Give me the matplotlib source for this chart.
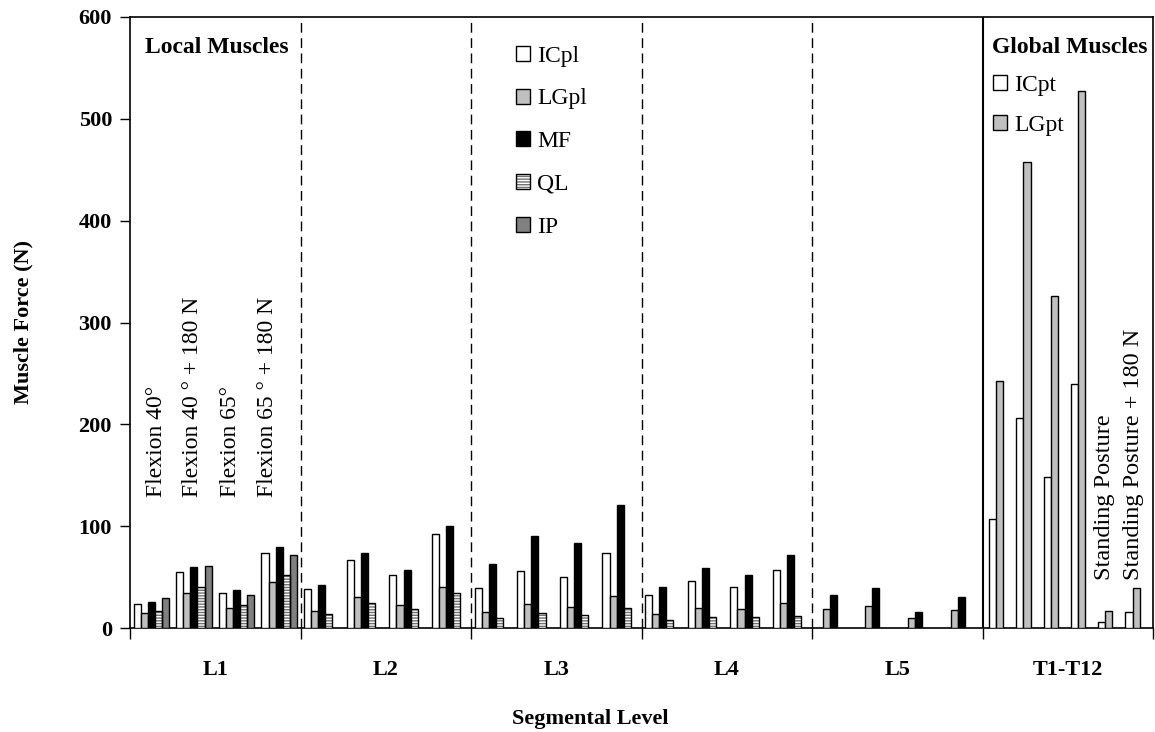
import numpy as np
import matplotlib
matplotlib.use("Agg")
import matplotlib.pyplot as plt
from matplotlib.patches import Patch
from matplotlib.legend_handler import HandlerTuple

plt.rcParams['font.family'] = ['Liberation Serif', 'DejaVu Serif']

# data
levels = ["L1", "L2", "L3", "L4", "L5", "T1-T12"]
local_names = ["ICpl", "LGpl", "MF", "QL", "IP"]
flexion_labels = ["Flexion 40°", "Flexion 40 ° + 180 N", "Flexion 65°", "Flexion 65 ° + 180 N"]
standing_labels = ["Standing Posture", "Standing Posture + 180 N"]

# local muscles, rows = L1..L5, columns = 4 flexion conditions
icpl = [[24, 55, 34, 74], [38, 67, 52, 92], [39, 56, 50, 74], [32, 46, 40, 57], [0, 0, 0, 0]]
lgpl = [[15, 34, 20, 45], [17, 30, 23, 40], [16, 24, 21, 31], [14, 20, 19, 25], [19, 22, 10, 18]]
mf = [[26, 60, 37, 80], [42, 74, 57, 100], [63, 90, 83, 121], [40, 59, 52, 72], [32, 39, 16, 30]]
ql = [[17, 40, 23, 52], [14, 25, 19, 34], [10, 15, 13, 20], [8, 11, 11, 12], [0, 0, 0, 0]]
ip = [[29, 61, 32, 72], [0, 0, 0, 0], [0, 0, 0, 0], [0, 0, 0, 0], [0, 0, 0, 0]]

# global muscles at T1-T12: 4 flexion conditions + 2 standing
icpt = [107, 206, 148, 240, 6, 16]
lgpt = [243, 458, 326, 527, 17, 39]

colors = {"ICpl": "white", "LGpl": "#c0c0c0", "MF": "black", "QL": "white", "IP": "#808080"}

fig = plt.figure(figsize=(11.55, 7.32), dpi=100)
ax = fig.add_axes([130 / 1155, 1 - 628 / 732, 1023 / 1155, 611 / 732])

bw = 0.25 / 6  # bar width, one category = 5 bars + gap
series = [icpl, lgpl, mf, ql, ip]
for s, (name, vals) in enumerate(zip(local_names, series)):
    vals = np.array(vals, dtype=float)
    xs, hs = [], []
    for j in range(vals.shape[0]):
        for i in range(4):
            if vals[j, i] > 0:
                xs.append(j + (i + 0.5) * 0.25 + (s - 2) * bw)
                hs.append(vals[j, i])
    if name == "QL":
        ax.bar(xs, hs, width=bw, color="white", edgecolor="#707070", hatch="------", linewidth=0, zorder=3)
        ax.bar(xs, hs, width=bw, fill=False, edgecolor="black", linewidth=1.0, zorder=4)
    else:
        ax.bar(xs, hs, width=bw, color=colors[name], edgecolor="black", linewidth=1.0, zorder=3)

gw = 0.16
gx = np.array([5 + (k + 0.5) * gw for k in range(len(icpt))])
ax.bar(gx - bw / 2, icpt, width=bw, color="white", edgecolor="black", linewidth=1.0, zorder=3)
ax.bar(gx + bw / 2, lgpt, width=bw, color="#c0c0c0", edgecolor="black", linewidth=1.0, zorder=3)

# dividers
for k in range(1, 5):
    ax.axvline(k, color="black", linewidth=1.0, dashes=(7, 4), zorder=2)
ax.axvline(5, color="black", linewidth=1.5, zorder=2)

ax.set_xlim(0, 6)
ax.set_ylim(0, 600)
ax.set_yticks(np.arange(0, 601, 100))
ax.set_xticks(np.arange(0, 7))
ax.set_xticklabels([])
ax.set_xticks(np.arange(6) + 0.5, minor=True)
ax.set_xticklabels(levels, minor=True, fontsize=16, fontweight="bold")
ax.tick_params(axis="x", which="major", direction="out", length=8, width=1)
ax.tick_params(axis="x", which="minor", length=0, pad=23)
ax.tick_params(axis="y", direction="out", length=7, width=1, labelsize=16, pad=6)
for lab in ax.get_yticklabels():
    lab.set_fontweight("bold")
for sp in ax.spines.values():
    sp.set_linewidth(1.2)

ax.set_xlabel("Segmental Level", fontsize=16, fontweight="bold")
ax.xaxis.set_label_coords(0.45, -0.132)
ax.set_ylabel("Muscle Force (N)", fontsize=16, fontweight="bold")
ax.yaxis.set_label_coords(-0.094, 0.5)

# rotated condition labels
for xp, txt in zip([0.158, 0.364, 0.587, 0.809], flexion_labels):
    ax.text(xp, 129, txt, rotation=90, ha="center", va="bottom", fontsize=17)
for xp, txt in zip([5.718, 5.883], standing_labels):
    ax.text(xp, 47, txt, rotation=90, ha="center", va="bottom", fontsize=17.5)

ax.text(0.088, 565, "Local Muscles", fontsize=17, fontweight="bold", va="baseline")
ax.text(5.056, 565, "Global Muscles", fontsize=17, fontweight="bold", va="baseline")

ql_handle = (Patch(facecolor="white", edgecolor="#707070", hatch="------", linewidth=0),
             Patch(fill=False, edgecolor="black", linewidth=1.0))
local_handles = [Patch(facecolor=colors["ICpl"], edgecolor="black"),
                 Patch(facecolor=colors["LGpl"], edgecolor="black"),
                 Patch(facecolor=colors["MF"], edgecolor="black"),
                 ql_handle,
                 Patch(facecolor=colors["IP"], edgecolor="black")]
leg1 = ax.legend(local_handles, local_names, loc="upper left", bbox_to_anchor=(0.377, 0.953),
                 frameon=False, fontsize=17, handlelength=0.6, handleheight=0.6,
                 handletextpad=0.3, labelspacing=0.92, borderpad=0, borderaxespad=0,
                 handler_map={tuple: HandlerTuple(ndivide=1)})
ax.add_artist(leg1)
global_handles = [Patch(facecolor="white", edgecolor="black"),
                  Patch(facecolor="#c0c0c0", edgecolor="black")]
ax.legend(global_handles, ["ICpt", "LGpt"], loc="upper left", bbox_to_anchor=(0.8436, 0.905),
          frameon=False, fontsize=17, handlelength=0.6, handleheight=0.6,
          handletextpad=0.3, labelspacing=0.8, borderpad=0, borderaxespad=0)

fig.savefig("out.png", dpi=100)
